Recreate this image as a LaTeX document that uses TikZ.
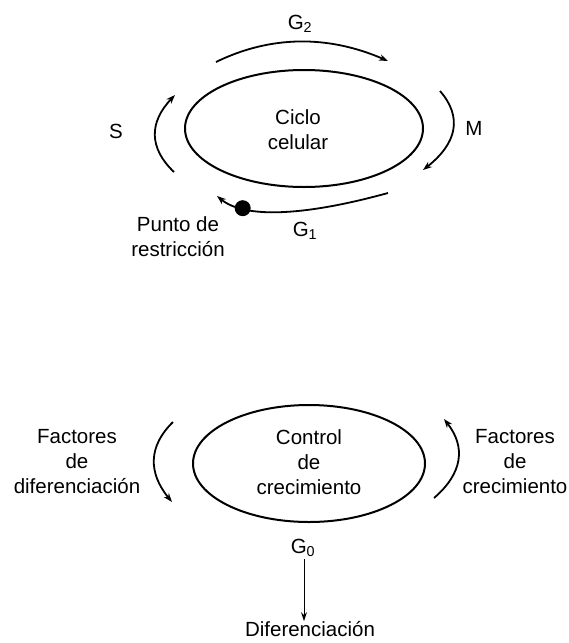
\documentclass[tikz,border=0pt]{standalone}
\usepackage{fontspec}
\setmainfont{Liberation Sans}
\usetikzlibrary{shapes.geometric,arrows.meta}
\begin{document}
\begin{tikzpicture}[x=1pt,y=-1pt,
  lbl/.style={font=\fontsize{20.5}{25}\selectfont, align=center, inner sep=0pt},
  cyc/.style={draw, ellipse, line width=2pt, inner sep=0pt},
  arc/.style={line width=1.8pt, -{Stealth[length=9pt,width=6.5pt]}},
  dotnode/.style={circle, fill=black, minimum size=16pt, inner sep=0pt}]
\useasboundingbox (0,0) rectangle (569,643);
% ---------- top: cell cycle ----------
\node[cyc, minimum width=238pt, minimum height=117pt] (cc) at (304,128.5) {};
\node[lbl] (cctext) at (298,130) {Ciclo\\celular};
\coordinate (g2a) at (216,62);
\coordinate (g2b) at (388,61);
\draw[arc] (g2a) .. controls (270.7,35.3) and (328,35) .. (g2b);
\node[lbl] (G2) at (300,24) {G\textsubscript{2}};
\coordinate (ma) at (440,91);
\coordinate (mb) at (423,170);
\draw[arc] (ma) .. controls (462.7,117) and (457,143.3) .. (mb);
\node[lbl] (M) at (474,128) {M};
\coordinate (sa) at (174,172);
\coordinate (sb) at (175,95);
\draw[arc] (sa) .. controls (148.7,148) and (149,122.3) .. (sb);
\node[lbl] (S) at (116,131) {S};
\coordinate (g1a) at (388,193);
\coordinate (g1b) at (217,196);
\draw[arc] (g1a) .. controls (300.7,217) and (243.7,218) .. node[dotnode, pos=0.75] (rp) {} (g1b);
\node[lbl] (G1) at (305,231) {G\textsubscript{1}};
\node[lbl] (punto) at (178,237) {Punto de\\restricción};
% ---------- bottom: growth control ----------
\node[cyc, minimum width=232pt, minimum height=117pt] (gc) at (309,463.5) {};
\node[lbl] (gctext) at (309,462) {Control\\de\\crecimiento};
\coordinate (la) at (173,422);
\coordinate (lb) at (172,502);
\draw[arc] (la) .. controls (148.3,446) and (148,472.7) .. (lb);
\node[lbl] (fd) at (77,462) {Factores\\de\\diferenciación};
\coordinate (ra) at (434,498);
\coordinate (rb) at (444,419);
\draw[arc] (ra) .. controls (462.7,473.3) and (466,447) .. (rb);
\node[lbl] (fc) at (515,462) {Factores\\de\\crecimiento};
\node[lbl] (G0) at (303,548) {G\textsubscript{0}};
\node[lbl] (dif) at (310,629) {Diferenciación};
\draw[line width=1pt, -{Stealth[length=9pt,width=6pt]}] (304,559) -- (dif.north -| 304,0);
\end{tikzpicture}
\end{document}
